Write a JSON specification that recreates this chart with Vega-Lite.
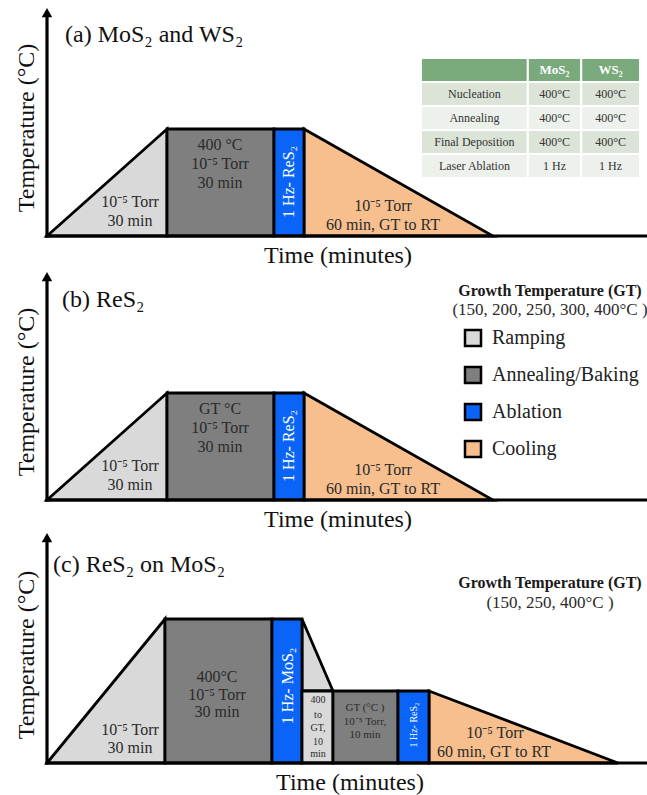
{
  "$schema": "https://vega.github.io/schema/vega-lite/v6.json",
  "padding": 0,
  "spacing": 0,
  "bounds": "flush",
  "background": "white",
  "config": {
    "view": {"stroke": null},
    "text": {"font": "Liberation Serif"},
    "legend": {
      "orient": "none",
      "legendX": 463,
      "legendY": 328,
      "symbolType": "square",
      "symbolSize": 256,
      "symbolStrokeColor": "black",
      "symbolStrokeWidth": 2.5,
      "symbolOpacity": 1,
      "labelFont": "Liberation Serif",
      "labelFontSize": 20,
      "labelColor": "#222222",
      "labelOffset": 9,
      "labelLimit": 300,
      "rowPadding": 11
    }
  },
  "datasets": {
    "areas": [
      {"panel": "a", "shape": "ramp", "phase": "Ramping", "t": 0, "temp": 0, "temp2": 0},
      {"panel": "a", "shape": "ramp", "phase": "Ramping", "t": 30, "temp": 400, "temp2": 0},
      {"panel": "a", "shape": "cool", "phase": "Cooling", "t": 64.25, "temp": 400, "temp2": 0},
      {"panel": "a", "shape": "cool", "phase": "Cooling", "t": 111.5, "temp": 0, "temp2": 0},
      {"panel": "b", "shape": "ramp", "phase": "Ramping", "t": 0, "temp": 0, "temp2": 0},
      {"panel": "b", "shape": "ramp", "phase": "Ramping", "t": 30, "temp": 400, "temp2": 0},
      {"panel": "b", "shape": "cool", "phase": "Cooling", "t": 64.25, "temp": 400, "temp2": 0},
      {"panel": "b", "shape": "cool", "phase": "Cooling", "t": 111.5, "temp": 0, "temp2": 0},
      {"panel": "c", "shape": "ramp", "phase": "Ramping", "t": 0, "temp": 0, "temp2": 0},
      {"panel": "c", "shape": "ramp", "phase": "Ramping", "t": 29.5, "temp": 400, "temp2": 0},
      {"panel": "c", "shape": "ramp2", "phase": "Ramping", "t": 63.75, "temp": 400, "temp2": 200},
      {"panel": "c", "shape": "ramp2", "phase": "Ramping", "t": 71.5, "temp": 200, "temp2": 200},
      {"panel": "c", "shape": "cool", "phase": "Cooling", "t": 95.5, "temp": 200, "temp2": 0},
      {"panel": "c", "shape": "cool", "phase": "Cooling", "t": 142.75, "temp": 0, "temp2": 0}
    ],
    "blocks": [
      {"panel": "a", "phase": "Annealing/Baking", "t": 30, "t2": 56.75, "temp": 0, "temp2": 400},
      {"panel": "a", "phase": "Ablation", "t": 56.75, "t2": 64.25, "temp": 0, "temp2": 400},
      {"panel": "b", "phase": "Annealing/Baking", "t": 30, "t2": 56.75, "temp": 0, "temp2": 400},
      {"panel": "b", "phase": "Ablation", "t": 56.75, "t2": 64.25, "temp": 0, "temp2": 400},
      {"panel": "c", "phase": "Annealing/Baking", "t": 29.5, "t2": 56.25, "temp": 0, "temp2": 400},
      {"panel": "c", "phase": "Ablation", "t": 56.25, "t2": 63.75, "temp": 0, "temp2": 400},
      {"panel": "c", "phase": "Ramping", "t": 63.75, "t2": 71.5, "temp": 0, "temp2": 200},
      {"panel": "c", "phase": "Annealing/Baking", "t": 71.5, "t2": 87.75, "temp": 0, "temp2": 200},
      {"panel": "c", "phase": "Ablation", "t": 87.75, "t2": 95.5, "temp": 0, "temp2": 200}
    ],
    "axes": [
      {"panel": "a", "t": 0, "t2": 150, "temp": 0, "temp2": 0},
      {"panel": "a", "t": 0, "t2": 0, "temp": 0, "temp2": 830},
      {"panel": "b", "t": 0, "t2": 150, "temp": 0, "temp2": 0},
      {"panel": "b", "t": 0, "t2": 0, "temp": 0, "temp2": 830},
      {"panel": "c", "t": 0, "t2": 150, "temp": 0, "temp2": 0},
      {"panel": "c", "t": 0, "t2": 0, "temp": 0, "temp2": 622}
    ],
    "arrows": [
      {"panel": "a", "t": 0, "temp": 835},
      {"panel": "b", "t": 0, "temp": 835},
      {"panel": "c", "t": 0, "temp": 626}
    ],
    "labels": [
      {"panel": "a", "role": "title", "t": 4.5, "temp": 751, "text": "(a) MoS₂ and WS₂"},
      {"panel": "a", "role": "axis-y", "t": -5, "temp": 404, "text": "Temperature (°C)"},
      {"panel": "a", "role": "axis-x", "t": 72.75, "temp": -75, "text": "Time (minutes)"},
      {"panel": "a", "role": "note", "t": 20.75, "temp": 127, "text": "10⁻⁵ Torr"},
      {"panel": "a", "role": "note", "t": 20.75, "temp": 56, "text": "30 min"},
      {"panel": "a", "role": "note", "t": 43.25, "temp": 340, "text": "400 °C"},
      {"panel": "a", "role": "note", "t": 43.25, "temp": 269, "text": "10⁻⁵ Torr"},
      {"panel": "a", "role": "note", "t": 43.25, "temp": 198, "text": "30 min"},
      {"panel": "a", "role": "note", "t": 84, "temp": 112, "text": "10⁻⁵ Torr"},
      {"panel": "a", "role": "note", "t": 84, "temp": 41, "text": "60 min, GT to RT"},
      {"panel": "a", "role": "ablation", "t": 60.5, "temp": 202, "text": "1 Hz- ReS₂"},

      {"panel": "b", "role": "title", "t": 3.75, "temp": 748, "text": "(b) ReS₂"},
      {"panel": "b", "role": "axis-y", "t": -5, "temp": 404, "text": "Temperature (°C)"},
      {"panel": "b", "role": "axis-x", "t": 72.75, "temp": -75, "text": "Time (minutes)"},
      {"panel": "b", "role": "note", "t": 20.75, "temp": 127, "text": "10⁻⁵ Torr"},
      {"panel": "b", "role": "note", "t": 20.75, "temp": 56, "text": "30 min"},
      {"panel": "b", "role": "note", "t": 43.25, "temp": 340, "text": "GT °C"},
      {"panel": "b", "role": "note", "t": 43.25, "temp": 269, "text": "10⁻⁵ Torr"},
      {"panel": "b", "role": "note", "t": 43.25, "temp": 198, "text": "30 min"},
      {"panel": "b", "role": "note", "t": 84, "temp": 112, "text": "10⁻⁵ Torr"},
      {"panel": "b", "role": "note", "t": 84, "temp": 41, "text": "60 min, GT to RT"},
      {"panel": "b", "role": "ablation", "t": 60.5, "temp": 202, "text": "1 Hz- ReS₂"},
      {"panel": "b", "role": "heading", "t": 125.75, "temp": 781, "text": "Growth Temperature (GT)"},
      {"panel": "b", "role": "sub", "t": 125.75, "temp": 710, "text": "(150, 200, 250, 300, 400°C )"},

      {"panel": "c", "role": "title", "t": 1.5, "temp": 550, "text": "(c) ReS₂ on MoS₂"},
      {"panel": "c", "role": "axis-y", "t": -5, "temp": 300, "text": "Temperature (°C)"},
      {"panel": "c", "role": "axis-x", "t": 75.75, "temp": -55.6, "text": "Time (minutes)"},
      {"panel": "c", "role": "note", "t": 20.75, "temp": 91.7, "text": "10⁻⁵ Torr"},
      {"panel": "c", "role": "note", "t": 20.75, "temp": 41.7, "text": "30 min"},
      {"panel": "c", "role": "note", "t": 42.5, "temp": 239, "text": "400°C"},
      {"panel": "c", "role": "note", "t": 42.5, "temp": 189, "text": "10⁻⁵ Torr"},
      {"panel": "c", "role": "note", "t": 42.5, "temp": 142, "text": "30 min"},
      {"panel": "c", "role": "note", "t": 112, "temp": 83, "text": "10⁻⁵ Torr"},
      {"panel": "c", "role": "note", "t": 111.75, "temp": 30.6, "text": "60 min, GT to RT"},
      {"panel": "c", "role": "note-xs", "t": 67.75, "temp": 175, "text": "400"},
      {"panel": "c", "role": "note-xs", "t": 67.75, "temp": 133, "text": "to"},
      {"panel": "c", "role": "note-xs", "t": 67.75, "temp": 97, "text": "GT,"},
      {"panel": "c", "role": "note-xs", "t": 67.75, "temp": 58, "text": "10"},
      {"panel": "c", "role": "note-xs", "t": 67.75, "temp": 25, "text": "min"},
      {"panel": "c", "role": "note-s", "t": 79.5, "temp": 153, "text": "GT (°C )"},
      {"panel": "c", "role": "note-s", "t": 79.5, "temp": 114, "text": "10⁻⁵ Torr,"},
      {"panel": "c", "role": "note-s", "t": 79.5, "temp": 78, "text": "10 min"},
      {"panel": "c", "role": "ablation", "t": 60.25, "temp": 214, "text": "1 Hz- MoS₂"},
      {"panel": "c", "role": "ablation-xs", "t": 91.75, "temp": 105.6, "text": "1 Hz- ReS₂"},
      {"panel": "c", "role": "heading", "t": 125.75, "temp": 500, "text": "Growth Temperature (GT)"},
      {"panel": "c", "role": "sub", "t": 125.75, "temp": 444, "text": "(150, 250, 400°C )"}
    ],
    "conditions": [
      {"row": 0, "col_start": 0, "col_end": 2, "col_mid": 1, "text": ""},
      {"row": 0, "col_start": 2, "col_end": 3, "col_mid": 2.5, "text": "MoS₂"},
      {"row": 0, "col_start": 3, "col_end": 4.1, "col_mid": 3.55, "text": "WS₂"},
      {"row": 1, "col_start": 0, "col_end": 2, "col_mid": 1, "text": "Nucleation"},
      {"row": 1, "col_start": 2, "col_end": 3, "col_mid": 2.5, "text": "400°C"},
      {"row": 1, "col_start": 3, "col_end": 4.1, "col_mid": 3.55, "text": "400°C"},
      {"row": 2, "col_start": 0, "col_end": 2, "col_mid": 1, "text": "Annealing"},
      {"row": 2, "col_start": 2, "col_end": 3, "col_mid": 2.5, "text": "400°C"},
      {"row": 2, "col_start": 3, "col_end": 4.1, "col_mid": 3.55, "text": "400°C"},
      {"row": 3, "col_start": 0, "col_end": 2, "col_mid": 1, "text": "Final Deposition"},
      {"row": 3, "col_start": 2, "col_end": 3, "col_mid": 2.5, "text": "400°C"},
      {"row": 3, "col_start": 3, "col_end": 4.1, "col_mid": 3.55, "text": "400°C"},
      {"row": 4, "col_start": 0, "col_end": 2, "col_mid": 1, "text": "Laser Ablation"},
      {"row": 4, "col_start": 2, "col_end": 3, "col_mid": 2.5, "text": "1 Hz"},
      {"row": 4, "col_start": 3, "col_end": 4.1, "col_mid": 3.55, "text": "1 Hz"}
    ]
  },
  "vconcat": [
    {
      "width": 647,
      "height": 264,
      "resolve": {"scale": {"x": "independent", "y": "independent"}},
      "layer": [
        {
          "encoding": {
            "x": {"field": "t", "type": "quantitative", "scale": {"domain": [-11.75, 150], "nice": false, "zero": false}, "axis": null},
            "y": {"field": "temp", "type": "quantitative", "scale": {"domain": [-104.67, 882.24], "nice": false, "zero": false}, "axis": null}
          },
          "layer": [
            {
              "data": {"name": "areas"},
              "transform": [{"filter": "datum.panel == 'a'"}],
              "mark": {"type": "area", "stroke": "black", "strokeWidth": 2.8, "opacity": 1, "fillOpacity": 1},
              "encoding": {
                "y2": {"field": "temp2"},
                "detail": {"field": "shape"},
                "fill": {"field": "phase", "type": "nominal", "legend": {"title": null}, "scale": {"domain": ["Ramping", "Annealing/Baking", "Ablation", "Cooling"], "range": ["#d9d9d9", "#7f7f7f", "#0a64f7", "#f7bf8e"]}}
              }
            },
            {
              "data": {"name": "blocks"},
              "transform": [{"filter": "datum.panel == 'a'"}],
              "mark": {"type": "rect", "stroke": "black", "strokeWidth": 2.8, "opacity": 1},
              "encoding": {
                "x2": {"field": "t2"},
                "y2": {"field": "temp2"},
                "fill": {"field": "phase", "type": "nominal", "legend": {"title": null}, "scale": {"domain": ["Ramping", "Annealing/Baking", "Ablation", "Cooling"], "range": ["#d9d9d9", "#7f7f7f", "#0a64f7", "#f7bf8e"]}}
              }
            },
            {
              "data": {"name": "axes"},
              "transform": [{"filter": "datum.panel == 'a'"}],
              "mark": {"type": "rule", "color": "black", "strokeWidth": 3.2, "strokeCap": "square"},
              "encoding": {"x2": {"field": "t2"}, "y2": {"field": "temp2"}}
            },
            {
              "data": {"name": "arrows"},
              "transform": [{"filter": "datum.panel == 'a'"}],
              "mark": {"type": "point", "shape": "triangle-up", "size": 110, "filled": true, "color": "black", "opacity": 1},
              "encoding": {}
            },
            {
              "data": {"name": "labels"},
              "transform": [{"filter": "datum.panel == 'a' && datum.role == 'title'"}],
              "mark": {"type": "text", "fontSize": 24, "align": "left", "color": "#111111"},
              "encoding": {"text": {"field": "text"}}
            },
            {
              "data": {"name": "labels"},
              "transform": [{"filter": "datum.panel == 'a' && datum.role == 'axis-x'"}],
              "mark": {"type": "text", "fontSize": 24, "color": "#111111"},
              "encoding": {"text": {"field": "text"}}
            },
            {
              "data": {"name": "labels"},
              "transform": [{"filter": "datum.panel == 'a' && datum.role == 'axis-y'"}],
              "mark": {"type": "text", "fontSize": 24, "angle": 270, "color": "#111111"},
              "encoding": {"text": {"field": "text"}}
            },
            {
              "data": {"name": "labels"},
              "transform": [{"filter": "datum.panel == 'a' && datum.role == 'note'"}],
              "mark": {"type": "text", "fontSize": 16, "color": "#2a2a2a"},
              "encoding": {"text": {"field": "text"}}
            },
            {
              "data": {"name": "labels"},
              "transform": [{"filter": "datum.panel == 'a' && datum.role == 'ablation'"}],
              "mark": {"type": "text", "fontSize": 16, "angle": 270, "color": "white"},
              "encoding": {"text": {"field": "text"}}
            }
          ]
        },
        {
          "data": {"name": "conditions"},
          "encoding": {
            "x": {"field": "col_start", "type": "quantitative", "scale": {"domain": [0, 4.1], "range": [421, 640], "nice": false, "zero": false}, "axis": null},
            "y": {"field": "row", "type": "ordinal", "scale": {"domain": [0, 1, 2, 3, 4], "range": [58, 178], "paddingInner": 0, "paddingOuter": 0}, "axis": null}
          },
          "layer": [
            {
              "transform": [{"filter": "datum.row == 0"}],
              "mark": {"type": "rect", "fill": "#7aaa7c", "stroke": "white", "strokeWidth": 2},
              "encoding": {"x2": {"field": "col_end"}}
            },
            {
              "transform": [{"filter": "datum.row > 0"}],
              "mark": {"type": "rect", "stroke": "white", "strokeWidth": 2},
              "encoding": {
                "x2": {"field": "col_end"},
                "fill": {"condition": {"test": "datum.row % 2 == 1", "value": "#dbe4d7"}, "value": "#edf1eb"}
              }
            },
            {
              "transform": [{"filter": "datum.row == 0"}],
              "mark": {"type": "text", "fontSize": 13, "fontWeight": "bold", "color": "white"},
              "encoding": {"x": {"field": "col_mid", "type": "quantitative", "scale": {"domain": [0, 4.1], "range": [421, 640], "nice": false, "zero": false}, "axis": null}, "text": {"field": "text"}}
            },
            {
              "transform": [{"filter": "datum.row > 0"}],
              "mark": {"type": "text", "fontSize": 12, "color": "#333333"},
              "encoding": {"x": {"field": "col_mid", "type": "quantitative", "scale": {"domain": [0, 4.1], "range": [421, 640], "nice": false, "zero": false}, "axis": null}, "text": {"field": "text"}}
            }
          ]
        }
      ]
    },
    {
      "width": 647,
      "height": 264,
      "encoding": {
        "x": {"field": "t", "type": "quantitative", "scale": {"domain": [-11.75, 150], "nice": false, "zero": false}, "axis": null},
        "y": {"field": "temp", "type": "quantitative", "scale": {"domain": [-104.67, 882.24], "nice": false, "zero": false}, "axis": null}
      },
      "layer": [
        {
          "data": {"name": "areas"},
          "transform": [{"filter": "datum.panel == 'b'"}],
          "mark": {"type": "area", "stroke": "black", "strokeWidth": 2.8, "opacity": 1, "fillOpacity": 1},
          "encoding": {
            "y2": {"field": "temp2"},
            "detail": {"field": "shape"},
            "fill": {"field": "phase", "type": "nominal", "legend": {"title": null}, "scale": {"domain": ["Ramping", "Annealing/Baking", "Ablation", "Cooling"], "range": ["#d9d9d9", "#7f7f7f", "#0a64f7", "#f7bf8e"]}}
          }
        },
        {
          "data": {"name": "blocks"},
          "transform": [{"filter": "datum.panel == 'b'"}],
          "mark": {"type": "rect", "stroke": "black", "strokeWidth": 2.8, "opacity": 1},
          "encoding": {
            "x2": {"field": "t2"},
            "y2": {"field": "temp2"},
            "fill": {"field": "phase", "type": "nominal", "legend": {"title": null}, "scale": {"domain": ["Ramping", "Annealing/Baking", "Ablation", "Cooling"], "range": ["#d9d9d9", "#7f7f7f", "#0a64f7", "#f7bf8e"]}}
          }
        },
        {
          "data": {"name": "axes"},
          "transform": [{"filter": "datum.panel == 'b'"}],
          "mark": {"type": "rule", "color": "black", "strokeWidth": 3.2, "strokeCap": "square"},
          "encoding": {"x2": {"field": "t2"}, "y2": {"field": "temp2"}}
        },
        {
          "data": {"name": "arrows"},
          "transform": [{"filter": "datum.panel == 'b'"}],
          "mark": {"type": "point", "shape": "triangle-up", "size": 110, "filled": true, "color": "black", "opacity": 1},
          "encoding": {}
        },
        {
          "data": {"name": "labels"},
          "transform": [{"filter": "datum.panel == 'b' && datum.role == 'title'"}],
          "mark": {"type": "text", "fontSize": 24, "align": "left", "color": "#111111"},
          "encoding": {"text": {"field": "text"}}
        },
        {
          "data": {"name": "labels"},
          "transform": [{"filter": "datum.panel == 'b' && datum.role == 'axis-x'"}],
          "mark": {"type": "text", "fontSize": 24, "color": "#111111"},
          "encoding": {"text": {"field": "text"}}
        },
        {
          "data": {"name": "labels"},
          "transform": [{"filter": "datum.panel == 'b' && datum.role == 'axis-y'"}],
          "mark": {"type": "text", "fontSize": 24, "angle": 270, "color": "#111111"},
          "encoding": {"text": {"field": "text"}}
        },
        {
          "data": {"name": "labels"},
          "transform": [{"filter": "datum.panel == 'b' && datum.role == 'note'"}],
          "mark": {"type": "text", "fontSize": 16, "color": "#2a2a2a"},
          "encoding": {"text": {"field": "text"}}
        },
        {
          "data": {"name": "labels"},
          "transform": [{"filter": "datum.panel == 'b' && datum.role == 'ablation'"}],
          "mark": {"type": "text", "fontSize": 16, "angle": 270, "color": "white"},
          "encoding": {"text": {"field": "text"}}
        },
        {
          "data": {"name": "labels"},
          "transform": [{"filter": "datum.panel == 'b' && datum.role == 'heading'"}],
          "mark": {"type": "text", "fontSize": 16, "fontWeight": "bold", "color": "#1a1a1a"},
          "encoding": {"text": {"field": "text"}}
        },
        {
          "data": {"name": "labels"},
          "transform": [{"filter": "datum.panel == 'b' && datum.role == 'sub'"}],
          "mark": {"type": "text", "fontSize": 17, "color": "#2a2a2a"},
          "encoding": {"text": {"field": "text"}}
        }
      ]
    },
    {
      "width": 647,
      "height": 267,
      "encoding": {
        "x": {"field": "t", "type": "quantitative", "scale": {"domain": [-11.75, 150], "nice": false, "zero": false}, "axis": null},
        "y": {"field": "temp", "type": "quantitative", "scale": {"domain": [-88.9, 652.8], "nice": false, "zero": false}, "axis": null}
      },
      "layer": [
        {
          "data": {"name": "areas"},
          "transform": [{"filter": "datum.panel == 'c'"}],
          "mark": {"type": "area", "stroke": "black", "strokeWidth": 2.8, "opacity": 1, "fillOpacity": 1},
          "encoding": {
            "y2": {"field": "temp2"},
            "detail": {"field": "shape"},
            "fill": {"field": "phase", "type": "nominal", "legend": {"title": null}, "scale": {"domain": ["Ramping", "Annealing/Baking", "Ablation", "Cooling"], "range": ["#d9d9d9", "#7f7f7f", "#0a64f7", "#f7bf8e"]}}
          }
        },
        {
          "data": {"name": "blocks"},
          "transform": [{"filter": "datum.panel == 'c'"}],
          "mark": {"type": "rect", "stroke": "black", "strokeWidth": 2.8, "opacity": 1},
          "encoding": {
            "x2": {"field": "t2"},
            "y2": {"field": "temp2"},
            "fill": {"field": "phase", "type": "nominal", "legend": {"title": null}, "scale": {"domain": ["Ramping", "Annealing/Baking", "Ablation", "Cooling"], "range": ["#d9d9d9", "#7f7f7f", "#0a64f7", "#f7bf8e"]}}
          }
        },
        {
          "data": {"name": "axes"},
          "transform": [{"filter": "datum.panel == 'c'"}],
          "mark": {"type": "rule", "color": "black", "strokeWidth": 3.2, "strokeCap": "square"},
          "encoding": {"x2": {"field": "t2"}, "y2": {"field": "temp2"}}
        },
        {
          "data": {"name": "arrows"},
          "transform": [{"filter": "datum.panel == 'c'"}],
          "mark": {"type": "point", "shape": "triangle-up", "size": 110, "filled": true, "color": "black", "opacity": 1},
          "encoding": {}
        },
        {
          "data": {"name": "labels"},
          "transform": [{"filter": "datum.panel == 'c' && datum.role == 'title'"}],
          "mark": {"type": "text", "fontSize": 24, "align": "left", "color": "#111111"},
          "encoding": {"text": {"field": "text"}}
        },
        {
          "data": {"name": "labels"},
          "transform": [{"filter": "datum.panel == 'c' && datum.role == 'axis-x'"}],
          "mark": {"type": "text", "fontSize": 24, "color": "#111111"},
          "encoding": {"text": {"field": "text"}}
        },
        {
          "data": {"name": "labels"},
          "transform": [{"filter": "datum.panel == 'c' && datum.role == 'axis-y'"}],
          "mark": {"type": "text", "fontSize": 24, "angle": 270, "color": "#111111"},
          "encoding": {"text": {"field": "text"}}
        },
        {
          "data": {"name": "labels"},
          "transform": [{"filter": "datum.panel == 'c' && datum.role == 'note'"}],
          "mark": {"type": "text", "fontSize": 16, "color": "#2a2a2a"},
          "encoding": {"text": {"field": "text"}}
        },
        {
          "data": {"name": "labels"},
          "transform": [{"filter": "datum.panel == 'c' && datum.role == 'note-s'"}],
          "mark": {"type": "text", "fontSize": 11, "color": "#2a2a2a"},
          "encoding": {"text": {"field": "text"}}
        },
        {
          "data": {"name": "labels"},
          "transform": [{"filter": "datum.panel == 'c' && datum.role == 'note-xs'"}],
          "mark": {"type": "text", "fontSize": 10, "color": "#2a2a2a"},
          "encoding": {"text": {"field": "text"}}
        },
        {
          "data": {"name": "labels"},
          "transform": [{"filter": "datum.panel == 'c' && datum.role == 'ablation'"}],
          "mark": {"type": "text", "fontSize": 16, "angle": 270, "color": "white"},
          "encoding": {"text": {"field": "text"}}
        },
        {
          "data": {"name": "labels"},
          "transform": [{"filter": "datum.panel == 'c' && datum.role == 'ablation-xs'"}],
          "mark": {"type": "text", "fontSize": 10, "angle": 270, "color": "white"},
          "encoding": {"text": {"field": "text"}}
        },
        {
          "data": {"name": "labels"},
          "transform": [{"filter": "datum.panel == 'c' && datum.role == 'heading'"}],
          "mark": {"type": "text", "fontSize": 16, "fontWeight": "bold", "color": "#1a1a1a"},
          "encoding": {"text": {"field": "text"}}
        },
        {
          "data": {"name": "labels"},
          "transform": [{"filter": "datum.panel == 'c' && datum.role == 'sub'"}],
          "mark": {"type": "text", "fontSize": 17, "color": "#2a2a2a"},
          "encoding": {"text": {"field": "text"}}
        }
      ]
    }
  ]
}
